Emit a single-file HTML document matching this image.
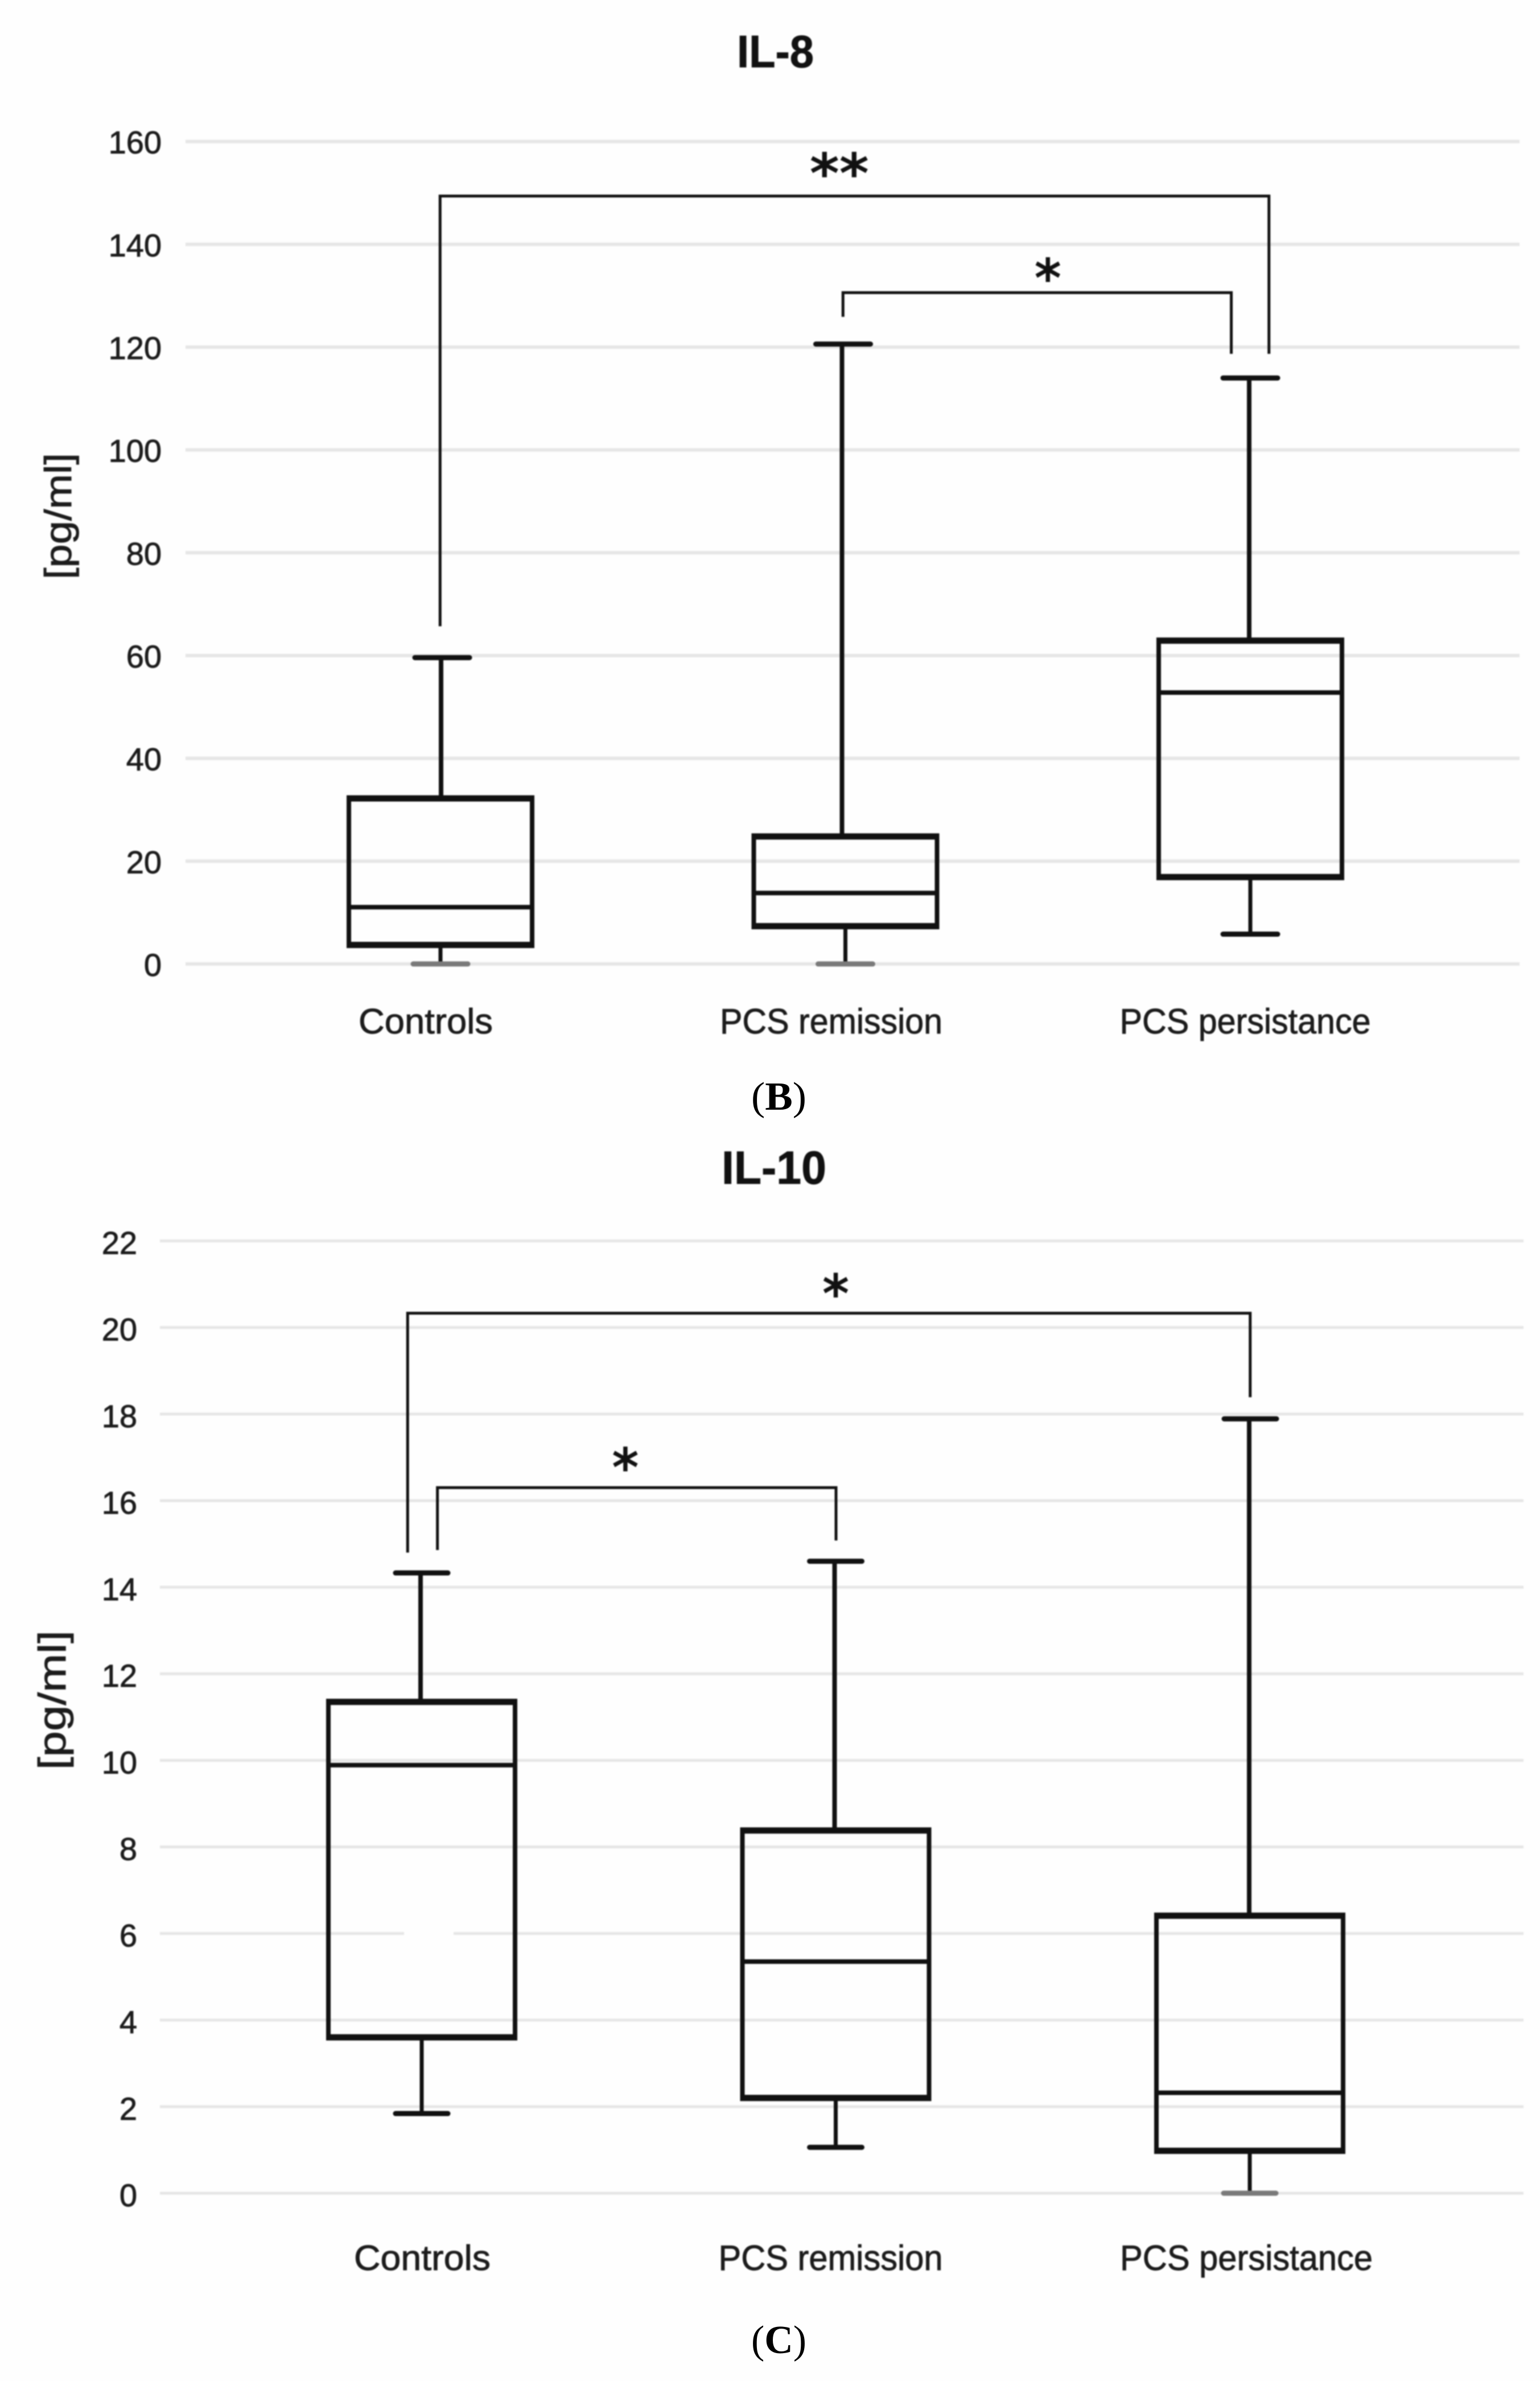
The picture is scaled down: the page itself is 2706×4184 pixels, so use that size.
<!DOCTYPE html>
<html lang="en">
<head>
<meta charset="utf-8">
<title>IL-8 and IL-10 box plots</title>
<style>
html,body{margin:0;padding:0;background:#fff;width:2706px;height:4184px;overflow:hidden}
svg{display:block}
text{font-family:"Liberation Sans",sans-serif;fill:#1c1c1c;stroke:#1c1c1c;stroke-width:0.9px}
.title{font-weight:700;fill:#111;stroke:#111}
.caption{font-family:"Liberation Serif",serif;fill:#000;stroke:none;font-size:70px}
.star{font-family:"DejaVu Sans",sans-serif;font-weight:700;fill:#111;stroke:none}
</style>
</head>
<body>
<svg id="figure" xmlns="http://www.w3.org/2000/svg" width="2706" height="4184" viewBox="0 0 2706 4184">
  <rect x="0" y="0" width="2706" height="4184" fill="#fefefe"/>
  <g id="chart-b" style="filter:blur(1px)">
    <text class="title" x="1295" y="118" font-size="80" textLength="135" lengthAdjust="spacingAndGlyphs">IL-8</text>
    <text transform="translate(125,1018) rotate(-90)" font-size="66" textLength="222" lengthAdjust="spacingAndGlyphs">[pg/ml]</text>
  </g>
  <text class="caption" x="1320" y="1950" textLength="97" lengthAdjust="spacingAndGlyphs">(<tspan font-weight="700">B</tspan>)</text>
  <g id="chart-c" style="filter:blur(1px)">
    <text class="title" x="1268" y="2080" font-size="82" textLength="184" lengthAdjust="spacingAndGlyphs">IL-10</text>
    <text transform="translate(115,3110) rotate(-90)" font-size="68" textLength="245" lengthAdjust="spacingAndGlyphs">[pg/ml]</text>
  </g>
  <text class="caption" x="1320" y="4135" textLength="97" lengthAdjust="spacingAndGlyphs">(<tspan font-weight="700">C</tspan>)</text>
</svg>
<script>
// Shared categories
const categories = ["Controls", "PCS remission", "PCS persistance"];

// IL-8 data (pg/ml)
const il8Ticks = [0, 20, 40, 60, 80, 100, 120, 140, 160];
const il8WhiskerLow = [0, 0, 5.8];
const il8Q1 = [3.7, 7.35, 16.9];
const il8Median = [11.05, 13.8, 52.8];
const il8Q3 = [32.2, 24.8, 62.9];
const il8WhiskerHigh = [59.6, 120.6, 114.0];
const il8Brackets = [
  {from: -0.001, to: 2.046, top: 149.4, fromEnd: 65.7, toEnd: 118.7, mark: "**", markAt: 0.985, gap: 32, size: 96, markWidth: 104},
  {from: 0.994, to: 1.953, top: 130.6, fromEnd: 125.9, toEnd: 118.7, mark: "*", markAt: 1.5, gap: 18, size: 94, markWidth: 47}
];

// IL-10 data (pg/ml)
const il10Ticks = [0, 2, 4, 6, 8, 10, 12, 14, 16, 18, 20, 22];
const il10WhiskerLow = [1.84, 1.06, 0];
const il10Q1 = [3.6, 2.2, 0.98];
const il10Median = [9.89, 5.35, 2.32];
const il10Q3 = [11.35, 8.38, 6.41];
const il10WhiskerHigh = [14.33, 14.6, 17.89];
const il10Brackets = [
  {from: -0.034, to: 2.001, top: 20.33, fromEnd: 14.8, toEnd: 18.39, mark: "*", markAt: 1.0, gap: 27, size: 94, markWidth: 47},
  {from: 0.038, to: 1.0007, top: 16.3, fromEnd: 14.86, toEnd: 15.08, mark: "*", markAt: 0.492, gap: 28, size: 94, markWidth: 47}
];

const SVG_NS = "http://www.w3.org/2000/svg";

function mk(parent, tag, name) {
  const el = document.createElementNS(SVG_NS, tag);
  
  
  parent.appendChild(el);
  return el;
}

function line(parent, name, x1, y1, x2, y2, width, color, cap) {
  const el = mk(parent, "line", name);
  el.setAttribute("x1", x1);
  el.setAttribute("y1", y1);
  el.setAttribute("x2", x2);
  el.setAttribute("y2", y2);
  el.setAttribute("stroke", color);
  el.setAttribute("stroke-width", width);
  el.setAttribute("stroke-linecap", cap || "butt");
  return el;
}

function label(parent, name, str, x, y, size, anchor, width) {
  const el = mk(parent, "text", name);
  el.setAttribute("x", x);
  el.setAttribute("y", y);
  el.setAttribute("font-size", size);
  el.setAttribute("text-anchor", anchor);
  if (width) {
    el.setAttribute("textLength", width);
    el.setAttribute("lengthAdjust", "spacingAndGlyphs");
  }
  el.textContent = str;
  return el;
}

function drawChart(root, prefix, s, L) {
  const maxTick = s.ticks[s.ticks.length - 1];
  const y = v => L.yZero - v * (L.yZero - L.yTop) / maxTick;
  const x = i => L.xZero + i * L.xStep;
  const INK = "#111";

  s.ticks.forEach(t => {
    line(root, prefix + "-gridline-" + t, L.gridLeft, y(t), L.gridRight, y(t), L.gridWidth, "#e6e6e6");
    label(root, prefix + "-y-tick-" + t, String(t), L.tickRight, y(t) + L.tickDy, 56, "end");
  });

  if (L.gridGap) {
    const gap = mk(root, "rect", prefix + "-gridline-gap");
    gap.setAttribute("x", L.gridGap.x);
    gap.setAttribute("y", y(L.gridGap.at) - 5);
    gap.setAttribute("width", L.gridGap.width);
    gap.setAttribute("height", 10);
    gap.setAttribute("fill", "#fefefe");
  }

  categories.forEach((c, i) => {
    const cx = x(i);
    const bx = cx + L.boxDx;
    const wx = cx + L.whiskerDx[i];
    const slug = c.toLowerCase().replace(/ /g, "-");
    const name = prefix + "-" + slug;

    line(root, name + "-upper-whisker", wx, y(s.q3[i]), wx, y(s.high[i]), 8, INK);
    line(root, name + "-lower-whisker", bx, y(s.q1[i]), bx, y(s.low[i]), 7, INK);
    line(root, name + "-upper-cap", wx + 2 - L.capHalf, y(s.high[i]), wx + 2 + L.capHalf, y(s.high[i]), 9, INK, "round");
    line(root, name + "-lower-cap", bx - L.capHalf, y(s.low[i]), bx + L.capHalf, y(s.low[i]), 9, s.low[i] === 0 ? "#7a7a7a" : INK, "round");

    line(root, name + "-box-left", bx - L.boxHalf, y(s.q3[i]), bx - L.boxHalf, y(s.q1[i]), 8, INK);
    line(root, name + "-box-right", bx + L.boxHalf, y(s.q3[i]), bx + L.boxHalf, y(s.q1[i]), 8, INK);
    line(root, name + "-box-top", bx - L.boxHalf - 4, y(s.q3[i]), bx + L.boxHalf + 4, y(s.q3[i]), 11, INK);
    line(root, name + "-box-bottom", bx - L.boxHalf - 4, y(s.q1[i]), bx + L.boxHalf + 4, y(s.q1[i]), 11, INK);
    line(root, name + "-median", bx - L.boxHalf, y(s.median[i]), bx + L.boxHalf, y(s.median[i]), 8, INK);

    label(root, name + "-x-label", c, cx + L.labelDx[i] - L.labelWidth[i] / 2, L.labelY, 62, "start", L.labelWidth[i]);
  });

  s.brackets.forEach((b, i) => {
    const name = prefix + "-significance-bracket-" + (i + 1);
    const path = mk(root, "path", name);
    path.setAttribute("d", "M" + x(b.from) + " " + y(b.fromEnd) + "V" + y(b.top) + "H" + x(b.to) + "V" + y(b.toEnd));
    path.setAttribute("fill", "none");
    path.setAttribute("stroke", "#111");
    path.setAttribute("stroke-width", 5);
    const star = label(root, name + "-stars", b.mark, x(b.markAt) - b.markWidth / 2, y(b.top) - b.gap + 0.27 * b.size, b.size, "start", b.markWidth);
    star.setAttribute("class", "star");
  });
}

drawChart(document.getElementById("chart-b"), "il-8", {
  ticks: il8Ticks, low: il8WhiskerLow, q1: il8Q1, median: il8Median, q3: il8Q3, high: il8WhiskerHigh, brackets: il8Brackets
}, {
  yZero: 1693.9, yTop: 248.7, xZero: 774, xStep: 711.5,
  gridLeft: 326, gridRight: 2670, gridWidth: 6, tickRight: 284, tickDy: 21,
  boxDx: 0, boxHalf: 161, capHalf: 48,
  whiskerDx: [1, -6, -2],
  labelDx: [-26, -25, -9], labelWidth: [236, 391, 441], labelY: 1816
});

drawChart(document.getElementById("chart-c"), "il-10", {
  ticks: il10Ticks, low: il10WhiskerLow, q1: il10Q1, median: il10Median, q3: il10Q3, high: il10WhiskerHigh, brackets: il10Brackets
}, {
  yZero: 3854, yTop: 2180.6, xZero: 741, xStep: 727.5,
  gridLeft: 281, gridRight: 2677, gridWidth: 5, tickRight: 241, tickDy: 23,
  boxDx: 0, boxHalf: 164, capHalf: 46,
  whiskerDx: [-2, -2, -1],
  gridGap: {x: 710, width: 87, at: 6},
  labelDx: [1, -9, -6], labelWidth: [240, 394, 444], labelY: 3989
});
</script>
</body>
</html>
